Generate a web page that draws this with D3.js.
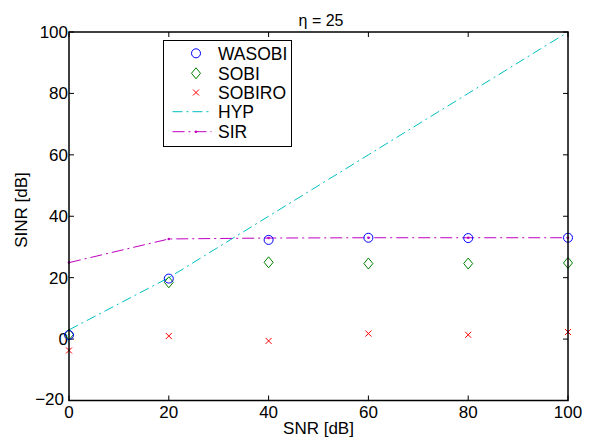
<!DOCTYPE html>
<html><head><meta charset="utf-8">
<script src="https://cdn.jsdelivr.net/npm/d3@7"></script>
<style>body{margin:0;background:#fff}svg{display:block}text{font-family:"Liberation Sans",Arial,sans-serif}</style>
</head><body>
<svg id="c" width="594" height="439"></svg>
<script>
const snr = [0, 20, 40, 60, 80, 100];
const wasobi = [1.3, 19.7, 32.3, 33.0, 32.9, 33.0];
const sobi = [1.5, 18.5, 25.0, 24.6, 24.6, 24.8];
const sobiro = [-3.7, 1.0, -0.6, 1.8, 1.4, 2.3];
const hyp = [3.0, 20.0, 40.0, 60.0, 80.0, 100.0];
const sir = [24.9, 32.6, 32.9, 33.0, 33.0, 33.0];
const xTicks = [0, 20, 40, 60, 80, 100];
const yTicks = [-20, 0, 20, 40, 60, 80, 100];
const seriesNames = ["WASOBI", "SOBI", "SOBIRO", "HYP", "SIR"];

const svg = d3.select("#c");
const L = 69, R = 568, T = 32, B = 400.5;
const x = d3.scaleLinear().domain([0, 100]).range([L, R]);
const y = d3.scaleLinear().domain([-20, 100]).range([B, T]);
const fs = 17;

// ticks (inward on all sides)
const g = svg.append("g");
const tl = 5;
xTicks.forEach(v => {
  g.append("line").attr("x1", x(v)).attr("x2", x(v)).attr("y1", B).attr("y2", B - tl).attr("stroke", "#000");
  g.append("line").attr("x1", x(v)).attr("x2", x(v)).attr("y1", T).attr("y2", T + tl).attr("stroke", "#000");
  g.append("text").attr("x", x(v)).attr("y", 418).attr("text-anchor", "middle").attr("font-size", fs).text(v);
});
yTicks.forEach(v => {
  g.append("line").attr("x1", L).attr("x2", L + tl).attr("y1", y(v)).attr("y2", y(v)).attr("stroke", "#000");
  g.append("line").attr("x1", R).attr("x2", R - tl).attr("y1", y(v)).attr("y2", y(v)).attr("stroke", "#000");
  g.append("text").attr("x", v < 0 ? 64 : 68).attr("y", y(v) + (v < 0 ? 4 : 6)).attr("text-anchor", "end").attr("font-size", fs)
    .text(v < 0 ? "\u2212" + Math.abs(v) : v);
});

const pts = arr => snr.map((s, i) => [x(s), y(arr[i])]);
const line = d3.line();

// HYP
svg.append("path").attr("d", line(pts(hyp))).attr("fill", "none").attr("stroke", "#00bfbf")
  .attr("stroke-width", 1).attr("stroke-dasharray", "10,4,2,4");
// SIR
svg.append("path").attr("d", line(pts(sir))).attr("fill", "none").attr("stroke", "#bf00bf")
  .attr("stroke-width", 1).attr("stroke-dasharray", "12,4,2,4");
pts(sir).forEach(p => svg.append("circle").attr("cx", p[0]).attr("cy", p[1]).attr("r", 1.3).attr("fill", "#bf00bf"));

function circ(sel, cx, cy) { sel.append("circle").attr("cx", cx).attr("cy", cy).attr("r", 4.5).attr("fill", "none").attr("stroke", "#0000ff").attr("stroke-width", 1); }
function diam(sel, cx, cy) { sel.append("path").attr("d", `M${cx},${cy - 5.5}L${cx + 4.5},${cy}L${cx},${cy + 5.5}L${cx - 4.5},${cy}Z`).attr("fill", "none").attr("stroke", "#008000").attr("stroke-width", 1); }
function cross(sel, cx, cy) { const s = 3; sel.append("path").attr("d", `M${cx - s},${cy - s}L${cx + s},${cy + s}M${cx - s},${cy + s}L${cx + s},${cy - s}`).attr("stroke", "#ff0000").attr("stroke-width", 1); }

pts(sobiro).forEach(p => cross(svg, p[0], p[1]));
pts(sobi).forEach(p => diam(svg, p[0], p[1]));
pts(wasobi).forEach(p => circ(svg, p[0], p[1]));

// box
svg.append("rect").attr("x", L).attr("y", T).attr("width", R - L).attr("height", B - T)
  .attr("fill", "none").attr("stroke", "#000").attr("stroke-width", 1.5);

// labels
svg.append("text").attr("x", (L + R) / 2).attr("y", 434).attr("text-anchor", "middle").attr("font-size", fs).text("SNR [dB]");
svg.append("text").attr("transform", "translate(27,210) rotate(-90)").attr("text-anchor", "middle").attr("font-size", fs).text("SINR [dB]");
svg.append("text").attr("x", 321).attr("y", 26).attr("text-anchor", "middle").attr("font-size", 16).text("\u03b7 = 25");

// legend
const lg = svg.append("g");
lg.append("rect").attr("x", 163.5).attr("y", 40.5).attr("width", 128).attr("height", 106).attr("fill", "#fff").attr("stroke", "#000").attr("stroke-width", 1);
const ly = [53.3, 73.3, 92.5, 111.7, 131.7];
const mx = 196;
circ(lg, mx, ly[0]);
diam(lg, mx, ly[1]);
cross(lg, mx, ly[2]);
lg.append("line").attr("x1", 172.5).attr("x2", 211.5).attr("y1", ly[3]).attr("y2", ly[3]).attr("stroke", "#00bfbf").attr("stroke-dasharray", "10,4,2,4");
lg.append("line").attr("x1", 172.5).attr("x2", 211.5).attr("y1", ly[4]).attr("y2", ly[4]).attr("stroke", "#bf00bf").attr("stroke-dasharray", "12,4,2,4");
lg.append("circle").attr("cx", mx).attr("cy", ly[4]).attr("r", 1.3).attr("fill", "#bf00bf");
seriesNames.forEach((n, i) => lg.append("text").attr("x", 218).attr("y", ly[i] + 6.3).attr("font-size", 17.5).text(n));
</script>
</body></html>
